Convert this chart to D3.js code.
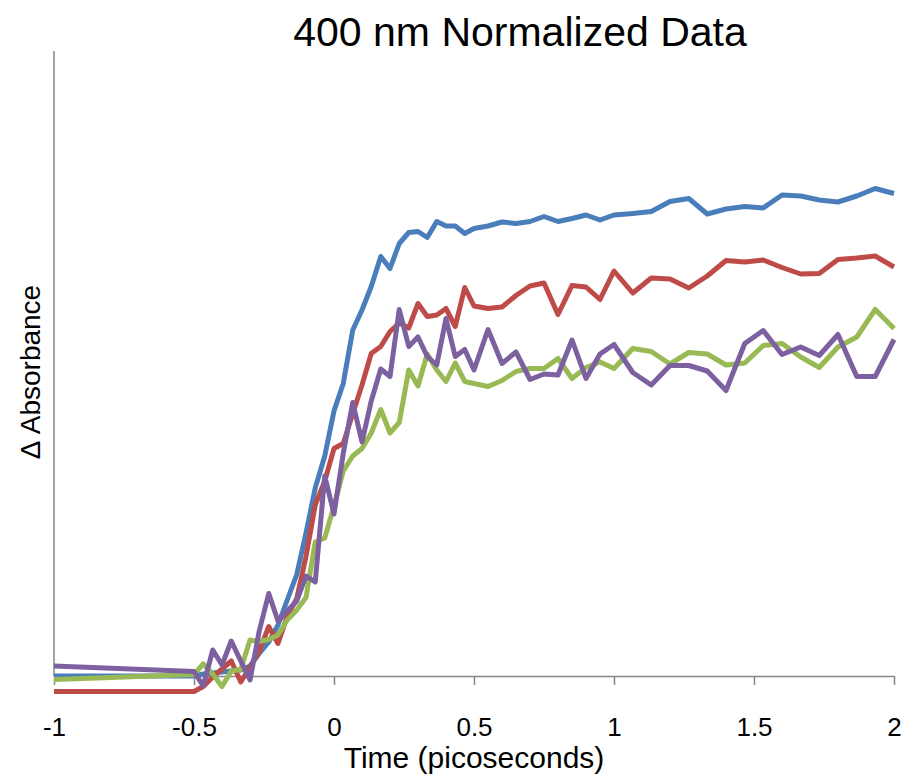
<!DOCTYPE html>
<html lang="en">
	<head>
		<meta charset="utf-8">
		<title>400 nm Normalized Data</title>
		<script type="text/javascript" src="https://cdn.jsdelivr.net/npm/d3@7/dist/d3.min.js"></script>
		<style type="text/css">
			body {
				margin: 0;
				background: #fff;
			}
			text {
				font-family: "Liberation Sans", Arial, sans-serif;
			}
		</style>
	</head>
	<body>
	<script type="text/javascript">

			//Width and height
			var w = 903;
			var h = 780;

			//Time points (picoseconds)
			var times = [-1, -0.5, -0.467, -0.433, -0.4, -0.367, -0.333, -0.3, -0.267, -0.233,
				-0.2, -0.167, -0.133, -0.1, -0.067, -0.033, 0, 0.033, 0.067, 0.1,
				0.133, 0.167, 0.2, 0.233, 0.267, 0.3, 0.333, 0.367, 0.4, 0.433,
				0.467, 0.5, 0.55, 0.6, 0.65, 0.7, 0.75, 0.8, 0.85, 0.9,
				0.95, 1.0, 1.067, 1.133, 1.2, 1.267, 1.333, 1.4, 1.467, 1.533,
				1.6, 1.667, 1.733, 1.8, 1.867, 1.933, 2.0];

			//Normalized absorbance, one array per trace
			var blue = [0.0, 0.0, 0.004, 0.006, 0.008, 0.01, 0.012, 0.02, 0.045, 0.068,
				0.102, 0.152, 0.203, 0.286, 0.376, 0.44, 0.53, 0.585, 0.692, 0.732,
				0.779, 0.839, 0.815, 0.865, 0.887, 0.889, 0.877, 0.909, 0.9, 0.9,
				0.885, 0.895, 0.9, 0.908, 0.905, 0.909, 0.919, 0.909, 0.915, 0.922,
				0.912, 0.922, 0.925, 0.929, 0.949, 0.955, 0.924, 0.934, 0.939, 0.936,
				0.962, 0.96, 0.952, 0.948, 0.96, 0.975, 0.965];

			var red = [-0.031, -0.031, -0.021, -0.002, 0.014, 0.03, -0.012, 0.018, 0.05, 0.099,
				0.065, 0.12, 0.155, 0.239, 0.342, 0.39, 0.455, 0.465, 0.525, 0.582,
				0.645, 0.659, 0.689, 0.706, 0.696, 0.745, 0.719, 0.722, 0.735, 0.699,
				0.777, 0.74, 0.735, 0.738, 0.761, 0.78, 0.786, 0.723, 0.781, 0.778,
				0.753, 0.81, 0.766, 0.796, 0.794, 0.776, 0.8, 0.831, 0.828, 0.832,
				0.817, 0.804, 0.805, 0.833, 0.836, 0.84, 0.818];

			var green = [-0.007, 0.003, 0.024, 0.004, -0.021, 0.01, 0.013, 0.072, 0.069, 0.073,
				0.082, 0.112, 0.132, 0.157, 0.268, 0.276, 0.34, 0.41, 0.44, 0.455,
				0.486, 0.533, 0.486, 0.507, 0.612, 0.58, 0.644, 0.612, 0.589, 0.626,
				0.589, 0.585, 0.579, 0.591, 0.609, 0.615, 0.615, 0.635, 0.595, 0.617,
				0.628, 0.615, 0.655, 0.649, 0.624, 0.647, 0.644, 0.622, 0.626, 0.661,
				0.665, 0.638, 0.617, 0.658, 0.678, 0.733, 0.695];

			var purple = [0.02, 0.009, -0.02, 0.052, 0.022, 0.07, 0.03, -0.008, 0.09, 0.165,
				0.11, 0.13, 0.15, 0.2, 0.188, 0.4, 0.324, 0.445, 0.547, 0.468,
				0.55, 0.614, 0.599, 0.733, 0.659, 0.678, 0.639, 0.622, 0.715, 0.639,
				0.653, 0.612, 0.693, 0.625, 0.648, 0.593, 0.604, 0.602, 0.672, 0.595,
				0.644, 0.663, 0.607, 0.582, 0.621, 0.621, 0.61, 0.571, 0.665, 0.691,
				0.643, 0.658, 0.641, 0.683, 0.599, 0.599, 0.673];

			var series = [
				{ name: "blue", values: blue, color: "#4a7ebb" },
				{ name: "red", values: red, color: "#be4b48" },
				{ name: "green", values: green, color: "#98b954" },
				{ name: "purple", values: purple, color: "#7d60a0" }
			];

			var xTicks = [-1, -0.5, 0, 0.5, 1, 1.5, 2];

			//Create scale functions
			var xScale = d3.scaleLinear()
								 .domain([-1, 2])
								 .range([54, 894]);

			var yScale = d3.scaleLinear()
								 .domain([0, 1.25])
								 .range([676, 51]);

			//Create SVG element
			var svg = d3.select("body")
						.append("svg")
						.attr("width", w)
						.attr("height", h);

			//Y axis: plain line, no ticks
			svg.append("line")
			   .attr("x1", xScale(-1))
			   .attr("x2", xScale(-1))
			   .attr("y1", yScale(1.25))
			   .attr("y2", yScale(0))
			   .attr("stroke", "#868686")
			   .attr("stroke-width", 1.5);

			//X axis
			var xAxis = d3.axisBottom(xScale)
						  .tickValues(xTicks)
						  .tickFormat(function(d) { return String(d); })
						  .tickSize(9)
						  .tickSizeOuter(0)
						  .tickPadding(33);

			var gx = svg.append("g")
			   .attr("transform", "translate(0," + yScale(0) + ")")
			   .call(xAxis);

			gx.select(".domain")
			  .attr("stroke", "#868686")
			  .attr("stroke-width", 1.5);
			gx.selectAll(".tick line")
			  .attr("stroke", "#868686")
			  .attr("stroke-width", 1.5);
			gx.selectAll(".tick text")
			  .attr("fill", "#000")
			  .attr("font-family", "'Liberation Sans', Arial, sans-serif")
			  .attr("font-size", "26px");

			//Lines
			var line = d3.line()
						 .x(function(d, i) { return xScale(times[i]); })
						 .y(function(d) { return yScale(d); });

			svg.selectAll("path.trace")
			   .data(series)
			   .enter()
			   .append("path")
			   .attr("class", "trace")
			   .attr("d", function(d) { return line(d.values); })
			   .attr("fill", "none")
			   .attr("stroke", function(d) { return d.color; })
			   .attr("stroke-width", 5)
			   .attr("stroke-linejoin", "round");

			//Title and axis titles
			svg.append("text")
			   .text("400 nm Normalized Data")
			   .attr("x", 520)
			   .attr("y", 46)
			   .attr("text-anchor", "middle")
			   .attr("font-size", "41px");

			svg.append("text")
			   .text("Time (picoseconds)")
			   .attr("x", 474)
			   .attr("y", 768)
			   .attr("text-anchor", "middle")
			   .attr("font-size", "30px");

			svg.append("text")
			   .text("Δ Absorbance")
			   .attr("transform", "translate(40,372) rotate(-90)")
			   .attr("text-anchor", "middle")
			   .attr("font-size", "28px");

		</script>
	</body>
</html>
